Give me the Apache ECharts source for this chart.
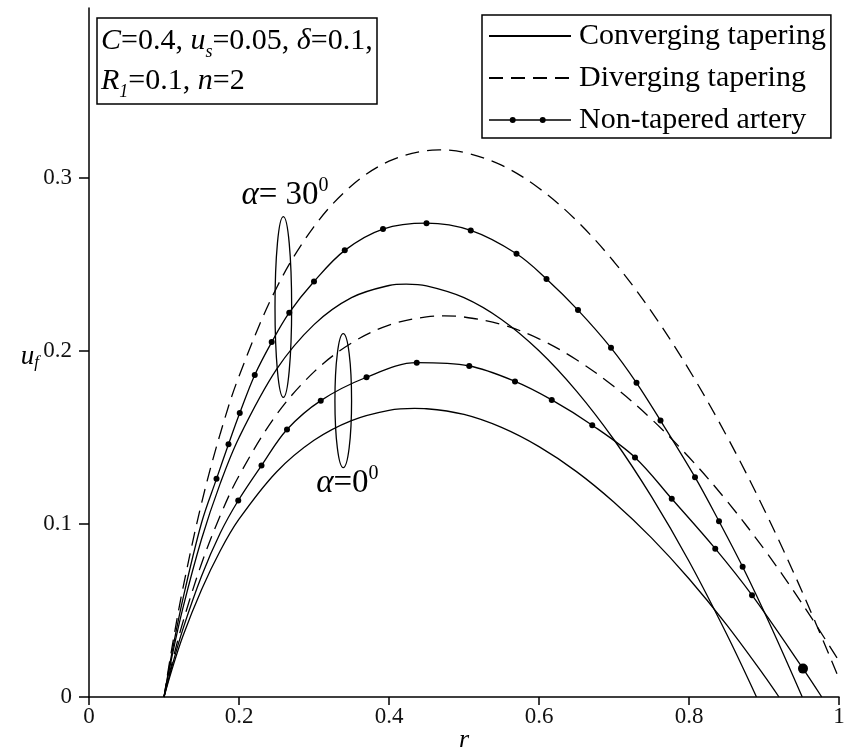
<!DOCTYPE html>
<html><head><meta charset="utf-8">
<script src="https://cdn.jsdelivr.net/npm/echarts@6/dist/echarts.min.js"></script>
<style>html,body{margin:0;padding:0;background:#fff}#c{width:846px;height:747px}</style>
</head><body><div id="c"></div>
<script>
// ---- data (r, u_f) ----
const xTickValues = [0, 0.2, 0.4, 0.6, 0.8, 1];
const yTickValues = [0, 0.1, 0.2, 0.3];
const legendNames = ['Converging tapering', 'Diverging tapering', 'Non-tapered artery'];

// alpha = 0 deg
const convergingA0 = [[0.1,0],[0.11,0.015],[0.125,0.035],[0.15,0.062],[0.175,0.0845],[0.2,0.1027],[0.25,0.130],[0.3,0.1483],[0.35,0.1597],[0.4,0.1656],[0.434,0.1667],[0.45,0.1665],[0.5,0.1632],[0.55,0.1557],[0.6,0.1446],[0.65,0.1302],[0.7,0.1125],[0.75,0.0919],[0.8,0.0683],[0.85,0.0418],[0.9,0.0125],[0.92,0]];
const divergingA0 = [[0.1,0],[0.11,0.0185],[0.125,0.043],[0.15,0.077],[0.175,0.1048],[0.2,0.1278],[0.25,0.1631],[0.3,0.1878],[0.35,0.2045],[0.4,0.2148],[0.45,0.2196],[0.474,0.2201],[0.5,0.2195],[0.55,0.2152],[0.6,0.2069],[0.65,0.1948],[0.7,0.1793],[0.75,0.1605],[0.8,0.1385],[0.85,0.1135],[0.9,0.0855],[0.95,0.0545],[1.0,0.0208]];
const nonTaperedA0Start = [[0.1,0],[0.11,0.0167],[0.125,0.0389],[0.15,0.0697],[0.175,0.0947]];
const nonTaperedA0Marks = [[0.199,0.1135],[0.230,0.1337],[0.264,0.1545],[0.309,0.1712],[0.370,0.1847],[0.437,0.1931],[0.507,0.1912],[0.568,0.1823],[0.617,0.1716],[0.671,0.157],[0.728,0.1384],[0.777,0.1145],[0.835,0.0857],[0.884,0.0588],[0.952,0.0164]];
const nonTaperedA0End = [[0.977,0]];

// alpha = 30 deg
const convergingA30 = [[0.1,0],[0.11,0.022],[0.125,0.051],[0.15,0.0911],[0.175,0.1234],[0.2,0.1498],[0.25,0.1892],[0.3,0.2151],[0.35,0.2307],[0.4,0.2377],[0.423,0.2385],[0.45,0.2375],[0.5,0.2307],[0.55,0.2181],[0.6,0.200],[0.65,0.1767],[0.7,0.1486],[0.75,0.1157],[0.8,0.0784],[0.85,0.0365],[0.89,0]];
const divergingA30 = [[0.1,0],[0.11,0.0269],[0.125,0.0624],[0.15,0.1118],[0.175,0.1521],[0.2,0.1853],[0.25,0.2363],[0.3,0.2717],[0.35,0.2953],[0.4,0.3095],[0.45,0.3156],[0.467,0.316],[0.5,0.3146],[0.55,0.3072],[0.6,0.2939],[0.65,0.2752],[0.7,0.2514],[0.75,0.2226],[0.8,0.1891],[0.85,0.151],[0.9,0.1085],[0.95,0.0617],[1.0,0.0107]];
const nonTaperedA30Start = [[0.1,0],[0.11,0.0242],[0.125,0.0562],[0.15,0.1005]];
const nonTaperedA30Marks = [[0.170,0.126],[0.186,0.146],[0.201,0.164],[0.221,0.186],[0.2436,0.205],[0.267,0.222],[0.300,0.240],[0.341,0.258],[0.392,0.2703],[0.450,0.2737],[0.509,0.2695],[0.570,0.256],[0.610,0.2415],[0.652,0.2235],[0.696,0.2017],[0.730,0.1815],[0.762,0.1597],[0.808,0.127],[0.840,0.1015],[0.8715,0.0752]];
const nonTaperedA30End = [[0.91,0.04],[0.951,0]];

// annotations (data units): centre x, centre y, half width, half height
const ellipseA30 = [0.2591, 0.2253, 0.0111, 0.0522];
const ellipseA0 = [0.339, 0.1712, 0.0111, 0.0387];
const labelA30Pos = [0.2613, 0.29];
const labelA0Pos = [0.3445, 0.1235];

// ---- chart ----
const FONT = '"Liberation Serif", "Times New Roman", serif';
const chart = echarts.init(document.getElementById('c'), null, {renderer: 'canvas'});

function plainSeries(name, pts, dashed) {
  return {
    name: name, type: 'line', data: pts, smooth: 0.35, symbol: 'none',
    lineStyle: {color: '#000', width: 1.3, type: dashed ? [14, 8] : 'solid'},
    itemStyle: {color: '#000'}, emphasis: {disabled: true}, silent: true, z: 3
  };
}
function markedSeries(name, start, marks, end, bigLast) {
  const data = [];
  start.forEach(p => data.push({value: p, symbol: 'none'}));
  marks.forEach((p, i) => data.push(bigLast && i === marks.length - 1 ? {value: p, symbolSize: 10} : {value: p}));
  end.forEach(p => data.push({value: p, symbol: 'none'}));
  return {
    name: name, type: 'line', data: data, smooth: 0.35, symbol: 'circle', symbolSize: 6,
    showSymbol: true, showAllSymbol: true,
    lineStyle: {color: '#000', width: 1.3}, itemStyle: {color: '#000'},
    emphasis: {disabled: true}, silent: true, z: 4
  };
}

// legend icon for the marked line: a line with two dots (drawn inside an 82x6 box)
const twoDotIcon = 'path://M0,2.35 L82,2.35 L82,3.65 L0,3.65 Z M20.7,3 A3,3 0 1,1 26.7,3 A3,3 0 1,1 20.7,3 Z M50.7,3 A3,3 0 1,1 56.7,3 A3,3 0 1,1 50.7,3 Z';

const option = {
  animation: false,
  backgroundColor: '#fff',
  grid: {left: 89, right: 7, top: 8, bottom: 50, containLabel: false, outerBoundsMode: 'none'},
  xAxis: {
    type: 'value', min: 0, max: 1, interval: 0.2,
    name: 'r', nameLocation: 'middle', nameGap: 30, nameMoveOverlap: false,
    nameTextStyle: {fontFamily: FONT, fontStyle: 'italic', fontSize: 26, color: '#000'},
    axisLine: {show: true, onZero: false, lineStyle: {color: '#000', width: 1.5}},
    axisTick: {show: true, inside: false, length: 8, lineStyle: {color: '#000', width: 1.5}, customValues: xTickValues},
    axisLabel: {fontFamily: FONT, fontSize: 23, color: '#111', margin: 8, customValues: xTickValues,
      formatter: v => String(Math.round(v * 10) / 10)},
    splitLine: {show: false}
  },
  yAxis: {
    type: 'value', min: 0, max: 0.398,
    name: '{i|u}{s|f}', nameLocation: 'middle', nameGap: 50, nameRotate: 0, nameMoveOverlap: false,
    nameTextStyle: {padding: [8, 0, 0, 0], rich: {
      i: {fontFamily: FONT, fontStyle: 'italic', fontSize: 27, color: '#000', lineHeight: 30, verticalAlign: 'middle'},
      s: {fontFamily: FONT, fontStyle: 'italic', fontSize: 17, color: '#000', lineHeight: 16, verticalAlign: 'bottom'}
    }},
    axisLine: {show: true, onZero: false, lineStyle: {color: '#000', width: 1.5}},
    axisTick: {show: true, inside: false, length: 10, lineStyle: {color: '#000', width: 1.5}, customValues: yTickValues},
    axisLabel: {fontFamily: FONT, fontSize: 23, color: '#111', margin: 17, customValues: yTickValues,
      formatter: v => String(Math.round(v * 10) / 10)},
    splitLine: {show: false}
  },
  title: {
    text: '{i|C}=0.4, {i|u}{s|s}=0.05, {i|δ}=0.1,\n{i|R}{s|1}=0.1, {i|n}=2',
    left: 97, top: 18,
    borderColor: '#000', borderWidth: 1.5, padding: [3, 5, 3, 4],
    backgroundColor: '#fff',
    textStyle: {
      fontFamily: FONT, fontSize: 30, fontWeight: 'normal', color: '#000', lineHeight: 40,
      rich: {
        i: {fontFamily: FONT, fontStyle: 'italic', fontSize: 30, color: '#000', lineHeight: 40},
        s: {fontFamily: FONT, fontStyle: 'italic', fontSize: 18, color: '#000', lineHeight: 18, verticalAlign: 'bottom'}
      }
    }
  },
  legend: {
    data: [
      {name: legendNames[0], itemStyle: {opacity: 0}},
      {name: legendNames[1], itemStyle: {opacity: 0}},
      {name: legendNames[2], icon: twoDotIcon}
    ],
    orient: 'vertical', left: 482, top: 15,
    itemWidth: 82, itemHeight: 6, itemGap: 12, padding: [6, 5, 3, 6],
    borderColor: '#000', borderWidth: 1.5, backgroundColor: '#fff',
    selectedMode: false,
    textStyle: {fontFamily: FONT, fontSize: 30, color: '#000', padding: [0, 0, 0, 3]}
  },
  series: [
    plainSeries(legendNames[0], convergingA0, false),
    plainSeries(legendNames[0], convergingA30, false),
    plainSeries(legendNames[1], divergingA0, true),
    plainSeries(legendNames[1], divergingA30, true),
    markedSeries(legendNames[2], nonTaperedA0Start, nonTaperedA0Marks, nonTaperedA0End, true),
    markedSeries(legendNames[2], nonTaperedA30Start, nonTaperedA30Marks, nonTaperedA30End, false)
  ]
};
chart.setOption(option);

function ellipseGraphic(e) {
  const c = chart.convertToPixel({gridIndex: 0}, [e[0], e[1]]);
  const c2 = chart.convertToPixel({gridIndex: 0}, [e[0] + e[2], e[1] + e[3]]);
  return {type: 'ellipse', shape: {cx: c[0], cy: c[1], rx: Math.abs(c2[0] - c[0]), ry: Math.abs(c2[1] - c[1])},
    style: {fill: 'none', stroke: '#000', lineWidth: 1.3}, z: 10, silent: true};
}
function alphaLabel(pos, deg, gap) {
  const p = chart.convertToPixel({gridIndex: 0}, pos);
  return {type: 'text', x: p[0], y: p[1], z: 10, silent: true,
    style: {text: '{a|α}=' + gap + deg + '{p|0}', textAlign: 'center', textVerticalAlign: 'middle',
      font: '33px ' + FONT, fill: '#000',
      rich: {
        a: {fontFamily: FONT, fontStyle: 'italic', fontSize: 33, fill: '#000', lineHeight: 38},
        p: {fontFamily: FONT, fontSize: 20, fill: '#000', lineHeight: 20, verticalAlign: 'top'}
      }}};
}
chart.setOption({graphic: [
  ellipseGraphic(ellipseA30), ellipseGraphic(ellipseA0),
  alphaLabel(labelA30Pos, '30', ' '), alphaLabel(labelA0Pos, '0', '')
]});
</script></body></html>
